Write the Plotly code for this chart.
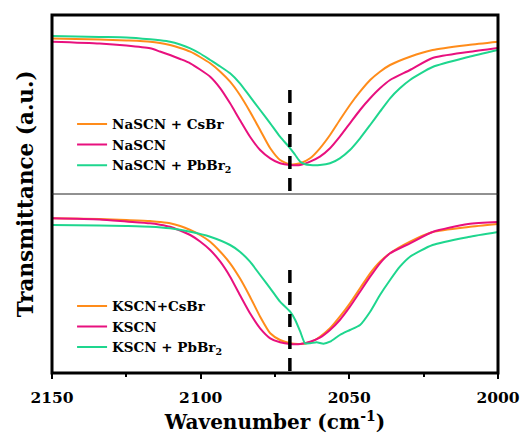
import plotly.graph_objects as go
from plotly.subplots import make_subplots

# ---- data (transmittance in arbitrary units) ----
wn_mid = [2117.0, 2113.7, 2110.3, 2106.9, 2103.5, 2100.2, 2096.8, 2093.4, 2090.1, 2086.8,
          2083.4, 2080.0, 2076.6, 2073.3, 2069.9, 2066.5, 2063.2, 2059.9, 2056.5, 2053.2,
          2049.8, 2046.4, 2043.0, 2039.7, 2036.3, 2029.6]

na_cs_x = [2150, 2134, 2125] + wn_mid + [2022, 2010, 2000]
na_cs_y = [155.5, 154.5, 153.5,
           152.3, 151, 149, 146, 142.3, 137, 130.7, 122.3, 112.3, 99,
           82.3, 64, 45.7, 34, 29.7, 30.7, 35.7, 45.7, 59, 74,
           89, 102.3, 114, 122.3, 129, 137.3,
           144, 149, 152.3]

na_x = [2150, 2134, 2125] + wn_mid + [2022, 2010, 2000]
na_y = [152.3, 150.5, 148.5,
        145.7, 142.5, 139, 135, 130.7, 124.5, 117.3, 105.7, 90.7, 74,
        57.3, 44, 35.7, 30.7, 29, 29, 32.3, 37.3, 45.7, 57.3,
        70.7, 84, 95.7, 105.7, 114, 124,
        136, 142, 146]

na_pb_x = [2150, 2134, 2125, 2117.0, 2113.7, 2110.3, 2106.9, 2103.5, 2100.2, 2096.8, 2093.4,
           2090.1, 2086.8, 2083.4, 2080.0, 2076.6, 2073.3, 2069.9, 2068.2, 2066.5, 2064.9,
           2063.2, 2059.9, 2056.5, 2053.2, 2049.8, 2046.4, 2043.0, 2039.7, 2036.3, 2033.0,
           2029.6, 2022, 2010, 2000]
na_pb_y = [158, 157, 156.5, 154.7, 153.7, 152.3, 149.5, 145.7, 140.5, 134, 127.5,
           120.7, 110.7, 97.3, 84, 70.7, 57.3, 45.7, 39, 32.3, 29.7,
           29, 29, 30.7, 35.7, 44, 55.7, 69, 82.3, 95.7, 105.7,
           114, 127, 137, 144]

k_cs_x = [2150, 2134, 2125] + wn_mid + [2022, 2010, 2000]
k_cs_y = [154.7, 154, 153,
          152, 151, 149.7, 147, 143, 138, 131.3, 121.3, 109.7, 94.7,
          76.3, 56.3, 39.7, 33, 29.7, 29, 30.7, 36.3, 44.7, 56.3,
          69.7, 84.7, 99.7, 111.3, 119.7, 131.3,
          141, 146, 149]

k_x = [2150, 2134, 2125] + wn_mid + [2022, 2010, 2000]
k_y = [154.7, 153.5, 151.5,
       149.7, 148.3, 146.3, 142.5, 138, 131.5, 123, 111.3, 96.3, 78,
       59.7, 44.7, 34.7, 30.7, 29, 29, 31.3, 35.3, 43, 53,
       66.3, 81.3, 96.3, 109.7, 119.7, 129.7,
       141, 149, 151]

k_pb_x = [2150, 2134, 2125, 2117.0, 2110.3, 2103.5, 2096.8, 2090.1, 2086.8, 2083.4, 2080.0,
          2076.6, 2073.3, 2069.9, 2068.2, 2066.5, 2064.9, 2063.2, 2061.0, 2058.7, 2056.5,
          2053.2, 2049.8, 2046.4, 2043.0, 2039.7, 2036.3, 2033.0, 2029.6, 2022, 2010, 2000]
k_pb_y = [148, 147.5, 147, 146.3, 144.7, 141.3, 136.3, 128, 121.3, 111.3, 98,
          84.7, 71.3, 61.3, 53, 41.3, 29.7, 29.7, 30.7, 29.3, 31.3,
          38, 43, 48, 61.3, 78, 93, 106.3, 116.3, 128, 136, 141]

dash_x = 2070
dash_top_y = [104, 0]
dash_bot_y = [103, 0]

x_ticks = [2150, 2100, 2050, 2000]
x_tick_text = ["<b>2150</b>", "<b>2100</b>", "<b>2050</b>", "<b>2000</b>"]

names_top = ["<b>NaSCN + CsBr</b>", "<b>NaSCN</b>", "<b>NaSCN + PbBr<sub>2</sub></b>"]
names_bot = ["<b>KSCN+CsBr</b>", "<b>KSCN</b>", "<b>KSCN + PbBr<sub>2</sub></b>"]

ORANGE = "#FF8C1A"
MAGENTA = "#E8107E"
GREEN = "#1ED68E"
FONT = "DejaVu Serif"

fig = make_subplots(rows=2, cols=1, shared_xaxes=True, vertical_spacing=0)

def add(x, y, name, color, row, legend):
    fig.add_trace(go.Scatter(x=x, y=y, name=name, mode="lines",
                             line=dict(color=color, width=2, shape="spline", smoothing=0.6),
                             legend=legend), row=row, col=1)

add(na_cs_x, na_cs_y, names_top[0], ORANGE, 1, "legend")
add(na_x, na_y, names_top[1], MAGENTA, 1, "legend")
add(na_pb_x, na_pb_y, names_top[2], GREEN, 1, "legend")
add(k_cs_x, k_cs_y, names_bot[0], ORANGE, 2, "legend2")
add(k_x, k_y, names_bot[1], MAGENTA, 2, "legend2")
add(k_pb_x, k_pb_y, names_bot[2], GREEN, 2, "legend2")

fig.add_trace(go.Scatter(x=[dash_x, dash_x], y=dash_top_y, mode="lines", showlegend=False,
                         line=dict(color="black", width=3.5, dash="13px,9px")), row=1, col=1)
fig.add_trace(go.Scatter(x=[dash_x, dash_x], y=dash_bot_y, mode="lines", showlegend=False,
                         line=dict(color="black", width=3.5, dash="13px,9px")), row=2, col=1)

fig.update_yaxes(range=[0, 179], showticklabels=False, ticks="", showgrid=False, zeroline=False)
fig.update_xaxes(range=[2150, 2000], showgrid=False, zeroline=False)
fig.update_xaxes(showticklabels=False, ticks="", row=1, col=1)
fig.update_xaxes(row=2, col=1, tickvals=x_ticks, ticktext=x_tick_text, ticks="outside", ticklen=5, tickwidth=2,
                 tickcolor="black", ticklabelstandoff=5,
                 minor=dict(ticks="outside", ticklen=3, tickwidth=2, dtick=25, tick0=2000, tickcolor="black"),
                 tickfont=dict(family=FONT, size=15.5, color="black"),
                 title=dict(text="<b>Wavenumber (cm<sup>-1</sup>)</b>", standoff=9,
                            font=dict(family=FONT, size=20, color="black")))

# frame and divider
fig.add_shape(type="rect", xref="paper", yref="paper", x0=0, x1=1, y0=0, y1=1,
              line=dict(color="black", width=3))
fig.add_shape(type="line", xref="paper", yref="paper", x0=0, x1=1, y0=0.5, y1=0.5,
              line=dict(color="#222222", width=1))

fig.add_annotation(text="<b>Transmittance (a.u.)</b>", xref="paper", yref="paper",
                   x=-0.06, y=0.5, textangle=-90, showarrow=False, xanchor="center", yanchor="middle",
                   font=dict(family=FONT, size=21.5, color="black"))

legfont = dict(family=FONT, size=13.5, color="black")
fig.update_layout(
    width=531, height=445,
    font=dict(family=FONT, color="black"),
    margin=dict(l=52, r=33, t=15, b=72),
    plot_bgcolor="white", paper_bgcolor="white",
    legend=dict(x=0.045, y=0.738, xanchor="left", yanchor="top", bgcolor="rgba(0,0,0,0)",
                font=legfont, tracegroupgap=0, itemwidth=30),
    legend2=dict(x=0.045, y=0.23, xanchor="left", yanchor="top", bgcolor="rgba(0,0,0,0)",
                 font=legfont, tracegroupgap=0, itemwidth=30),
)

fig.write_html("out.html")
